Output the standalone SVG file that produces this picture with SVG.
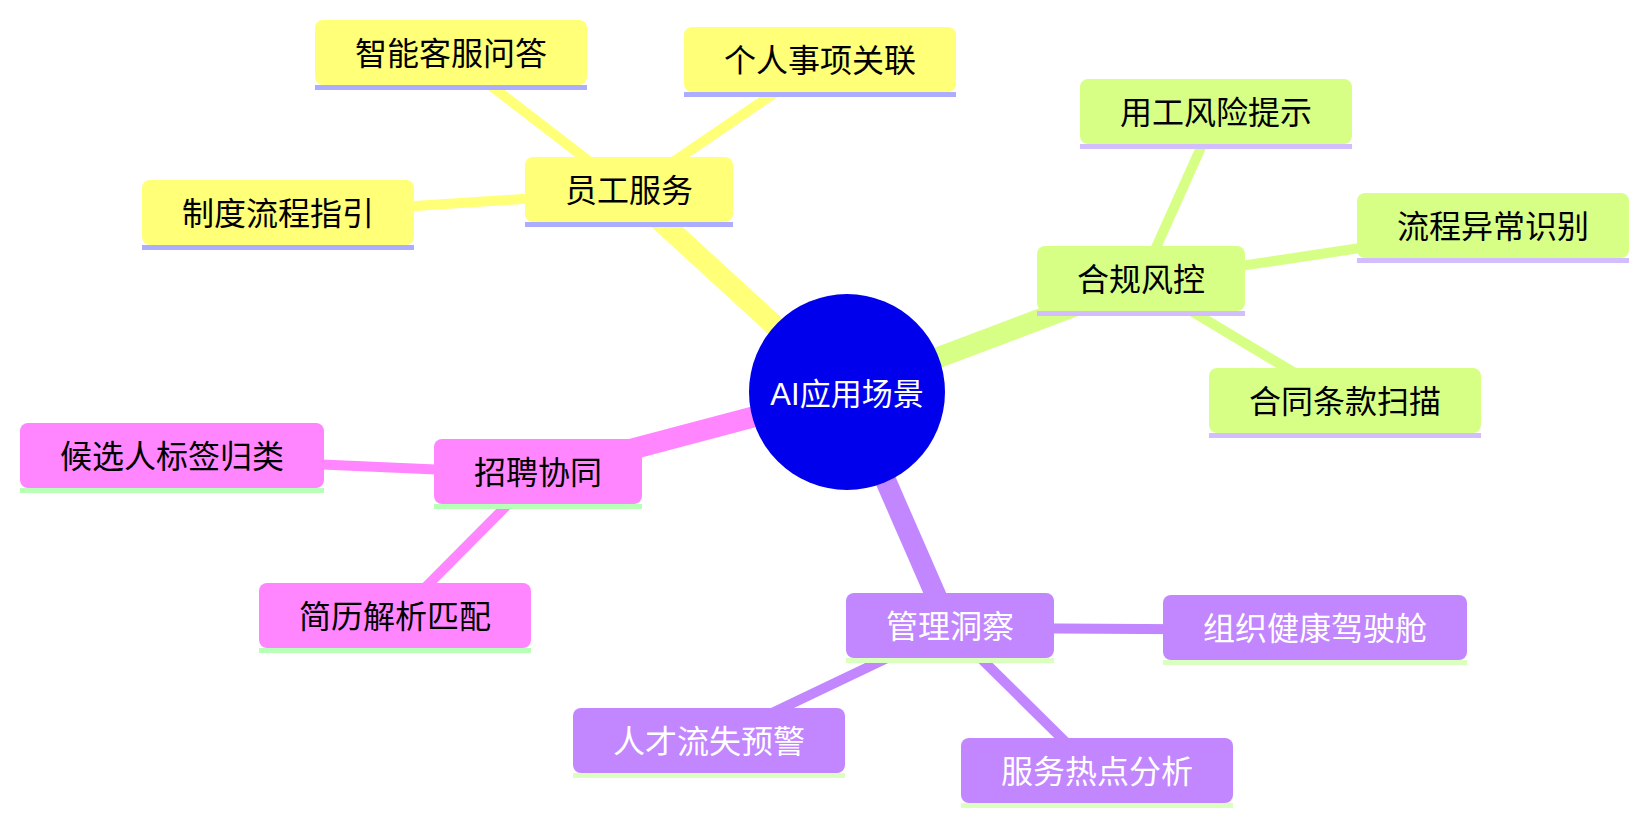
<svg xmlns="http://www.w3.org/2000/svg" width="1648" height="826" viewBox="0 0 1648 826">
<style>
text{font-family:"Liberation Sans","Noto Sans CJK SC",sans-serif;font-size:32px;text-anchor:middle;fill:#000}
line{fill:none}
.e0{stroke:#ffff78}.e1{stroke:#d7ff86}.e2{stroke:#c286ff}.e3{stroke:#ff86ff}
.d0{stroke-width:21}
.d1{stroke-width:10}
.s0 .bg{fill:#ffff78}.s0 .ln{fill:#adadff}
.s1 .bg{fill:#d7ff86}.s1 .ln{fill:#d2bdff}
.s2 .bg{fill:#c286ff}.s2 .ln{fill:#dbffbe}.s2 text{fill:#fff}
.s3 .bg{fill:#ff86ff}.s3 .ln{fill:#b8ffb8}
.root circle{fill:#0000ed}.root text{fill:#fff;font-size:31px}
</style>
<g id="connectors">
<line class="e0 d0" x1="847" y1="392" x2="629" y2="192"/>
<line class="e0 d1" x1="629" y1="192" x2="451" y2="55"/>
<line class="e0 d1" x1="629" y1="192" x2="820" y2="62"/>
<line class="e0 d1" x1="629" y1="192" x2="278" y2="215"/>
<line class="e1 d0" x1="847" y1="392" x2="1141" y2="281"/>
<line class="e1 d1" x1="1141" y1="281" x2="1216" y2="114"/>
<line class="e1 d1" x1="1141" y1="281" x2="1493" y2="228"/>
<line class="e1 d1" x1="1141" y1="281" x2="1345" y2="403"/>
<line class="e3 d0" x1="847" y1="392" x2="538" y2="474"/>
<line class="e3 d1" x1="538" y1="474" x2="172" y2="458"/>
<line class="e3 d1" x1="538" y1="474" x2="395" y2="618"/>
<line class="e2 d0" x1="847" y1="392" x2="950" y2="628"/>
<line class="e2 d1" x1="950" y1="628" x2="1315" y2="630"/>
<line class="e2 d1" x1="950" y1="628" x2="709" y2="743"/>
<line class="e2 d1" x1="950" y1="628" x2="1097" y2="773"/>
</g>
<g id="n-ygfw" class="s0" transform="translate(525,157)"><rect class="bg" width="208" height="65" rx="8"/><rect class="ln" y="65" width="208" height="5"/><text x="104" y="45">员工服务</text></g>
<g id="n-znkf" class="s0" transform="translate(315,20)"><rect class="bg" width="272" height="65" rx="8"/><rect class="ln" y="65" width="272" height="5"/><text x="136" y="45">智能客服问答</text></g>
<g id="n-grsx" class="s0" transform="translate(684,27)"><rect class="bg" width="272" height="65" rx="8"/><rect class="ln" y="65" width="272" height="5"/><text x="136" y="45">个人事项关联</text></g>
<g id="n-zdlc" class="s0" transform="translate(142,180)"><rect class="bg" width="272" height="65" rx="8"/><rect class="ln" y="65" width="272" height="5"/><text x="136" y="45">制度流程指引</text></g>
<g id="n-hgfk" class="s1" transform="translate(1037,246)"><rect class="bg" width="208" height="65" rx="8"/><rect class="ln" y="65" width="208" height="5"/><text x="104" y="45">合规风控</text></g>
<g id="n-ygfx" class="s1" transform="translate(1080,79)"><rect class="bg" width="272" height="65" rx="8"/><rect class="ln" y="65" width="272" height="5"/><text x="136" y="45">用工风险提示</text></g>
<g id="n-lcyc" class="s1" transform="translate(1357,193)"><rect class="bg" width="272" height="65" rx="8"/><rect class="ln" y="65" width="272" height="5"/><text x="136" y="45">流程异常识别</text></g>
<g id="n-htsm" class="s1" transform="translate(1209,368)"><rect class="bg" width="272" height="65" rx="8"/><rect class="ln" y="65" width="272" height="5"/><text x="136" y="45">合同条款扫描</text></g>
<g id="n-zpxt" class="s3" transform="translate(434,439)"><rect class="bg" width="208" height="65" rx="8"/><rect class="ln" y="65" width="208" height="5"/><text x="104" y="45">招聘协同</text></g>
<g id="n-hxr" class="s3" transform="translate(20,423)"><rect class="bg" width="304" height="65" rx="8"/><rect class="ln" y="65" width="304" height="5"/><text x="152" y="45">候选人标签归类</text></g>
<g id="n-jljx" class="s3" transform="translate(259,583)"><rect class="bg" width="272" height="65" rx="8"/><rect class="ln" y="65" width="272" height="5"/><text x="136" y="45">简历解析匹配</text></g>
<g id="n-gldc" class="s2" transform="translate(846,593)"><rect class="bg" width="208" height="65" rx="8"/><rect class="ln" y="65" width="208" height="5"/><text x="104" y="45">管理洞察</text></g>
<g id="n-zzjk" class="s2" transform="translate(1163,595)"><rect class="bg" width="304" height="65" rx="8"/><rect class="ln" y="65" width="304" height="5"/><text x="152" y="45">组织健康驾驶舱</text></g>
<g id="n-rcls" class="s2" transform="translate(573,708)"><rect class="bg" width="272" height="65" rx="8"/><rect class="ln" y="65" width="272" height="5"/><text x="136" y="45">人才流失预警</text></g>
<g id="n-fwrd" class="s2" transform="translate(961,738)"><rect class="bg" width="272" height="65" rx="8"/><rect class="ln" y="65" width="272" height="5"/><text x="136" y="45">服务热点分析</text></g>
<g id="n-root" class="root"><circle cx="847" cy="392" r="98"/><text x="847" y="405">AI应用场景</text></g>
</svg>
